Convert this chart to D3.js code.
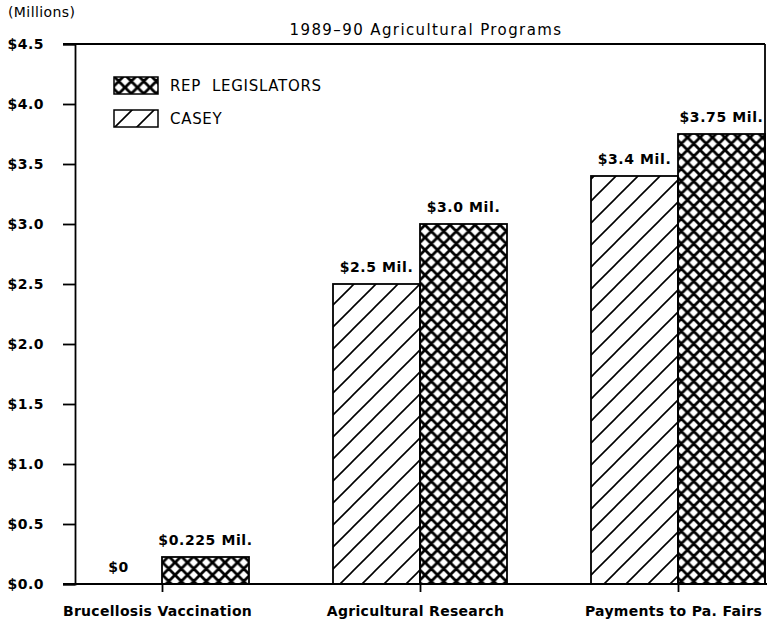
<!DOCTYPE html>
<html><head><meta charset="utf-8">
<script src="https://cdn.jsdelivr.net/npm/d3@7"></script>
<style>body{margin:0;background:#fff}svg{display:block}</style>
</head><body>
<script>
const categories = ["Brucellosis Vaccination", "Agricultural Research", "Payments to Pa. Fairs"];
const series = ["CASEY", "REP LEGISLATORS"];
const caseyValues = [0, 2.5, 3.4];
const repValues = [0.225, 3.0, 3.75];
const caseyLabels = ["$0", "$2.5 Mil.", "$3.4 Mil."];
const repLabels = ["$0.225 Mil.", "$3.0 Mil.", "$3.75 Mil."];
const yTicks = [0, 0.5, 1.0, 1.5, 2.0, 2.5, 3.0, 3.5, 4.0, 4.5];
const title = "1989\u201390 Agricultural Programs";
const unitLabel = "(Millions)";

const W = 767, H = 619;
const svg = d3.select("body").append("svg").attr("width", W).attr("height", H);
const defs = svg.append("defs");

const single = defs.append("pattern").attr("id","single").attr("patternUnits","userSpaceOnUse")
  .attr("width",22).attr("height",22);
single.append("path").attr("d","M-2,24 L24,-2 M-13,13 L13,-13 M9,35 L35,9").attr("stroke","#000").attr("stroke-width",1.6).attr("fill","none");

const cross = defs.append("pattern").attr("id","cross").attr("patternUnits","userSpaceOnUse")
  .attr("width",12.5).attr("height",12.5);
cross.append("path").attr("d","M-2,14.5 L14.5,-2 M-8.25,8.25 L8.25,-8.25 M4.25,20.75 L20.75,4.25 M-2,-2 L14.5,14.5 M-8.25,4.25 L8.25,20.75 M4.25,-8.25 L20.75,8.25")
  .attr("stroke","#000").attr("stroke-width",2.8).attr("fill","none");

const x0 = d3.scaleBand().domain(categories).range([75, 765]).paddingInner(84/258).paddingOuter(0);
const x1 = d3.scaleBand().domain(series).range([0, x0.bandwidth()]);
const y = d3.scaleLinear().domain([0, 4.5]).range([584, 44]);

const font = "'DejaVu Sans', sans-serif";

// bars
const data = [];
categories.forEach((c,i)=>{
  data.push({c, s:"CASEY", v:caseyValues[i], lab:caseyLabels[i]});
  data.push({c, s:"REP LEGISLATORS", v:repValues[i], lab:repLabels[i]});
});
svg.append("g").selectAll("rect").data(data.filter(d=>d.v>0)).join("rect")
  .attr("x", d=>x0(d.c)+x1(d.s)).attr("y", d=>y(d.v))
  .attr("width", x1.bandwidth()).attr("height", d=>y(0)-y(d.v))
  .attr("fill", d=>d.s==="CASEY"?"url(#single)":"url(#cross)")
  .attr("stroke","#000").attr("stroke-width",1.8);

svg.append("g").selectAll("text").data(data).join("text")
  .attr("x", d=>x0(d.c)+x1(d.s)+x1.bandwidth()/2)
  .attr("y", d=>y(d.v)-12)
  .attr("text-anchor","middle").attr("font-family",font).attr("font-weight","bold")
  .attr("font-size",14).attr("letter-spacing",0.6).text(d=>d.lab);

// frame top and right
svg.append("line").attr("x1",63).attr("x2",765).attr("y1",y(4.5)).attr("y2",y(4.5)).attr("stroke","#000").attr("stroke-width",1.8);
svg.append("line").attr("x1",765).attr("x2",765).attr("y1",y(4.5)).attr("y2",y(0)).attr("stroke","#000").attr("stroke-width",1.8);

// y axis
const yAxis = svg.append("g").attr("transform","translate(75,0)")
  .call(d3.axisLeft(y).tickValues(yTicks).tickSize(12).tickPadding(19).tickFormat(d=>"$"+d.toFixed(1)));
yAxis.select(".domain").attr("stroke-width",1.8);
yAxis.selectAll(".tick line").attr("stroke-width",1.8);
yAxis.selectAll("text").attr("font-family",font).attr("font-weight","bold").attr("font-size",14).attr("letter-spacing",0.5).attr("fill","#000");

// x axis
const xAxis = svg.append("g").attr("transform",`translate(0,${y(0)})`)
  .call(d3.axisBottom(d3.scalePoint().domain(categories).range([x0(categories[0])+x0.bandwidth()/2, x0(categories[2])+x0.bandwidth()/2]))
  .tickSize(8).tickSizeOuter(0).tickPadding(14));
xAxis.select(".domain").remove();
xAxis.selectAll(".tick line").attr("stroke-width",1.8);
xAxis.selectAll("text").attr("font-family",font).attr("font-weight","bold").attr("font-size",14).attr("letter-spacing",0.3).attr("fill","#000").attr("dx",-5);
svg.append("line").attr("x1",63).attr("x2",W).attr("y1",y(0)).attr("y2",y(0)).attr("stroke","#000").attr("stroke-width",1.8);

// titles
svg.append("text").attr("x",426).attr("y",35).attr("text-anchor","middle").attr("font-family",font)
  .attr("font-size",15).attr("letter-spacing",1.4).text(title);
svg.append("text").attr("x",8).attr("y",17).attr("font-family",font).attr("font-size",14).attr("letter-spacing",0.4).text(unitLabel);

// legend
const leg = svg.append("g");
const legItems = [{s:"REP LEGISLATORS", fill:"url(#cross)", yy:77, txt:"REP  LEGISLATORS"},{s:"CASEY", fill:"url(#single)", yy:110, txt:"CASEY"}];
leg.selectAll("rect").data(legItems).join("rect").attr("x",114).attr("y",d=>d.yy).attr("width",44).attr("height",17)
  .attr("fill",d=>d.fill).attr("stroke","#000").attr("stroke-width",1.5);
leg.selectAll("text").data(legItems).join("text").attr("x",170).attr("y",d=>d.yy+14).attr("font-family",font)
  .attr("font-size",15).attr("letter-spacing",0.7).style("white-space","pre").text(d=>d.txt);
</script>
</body></html>
